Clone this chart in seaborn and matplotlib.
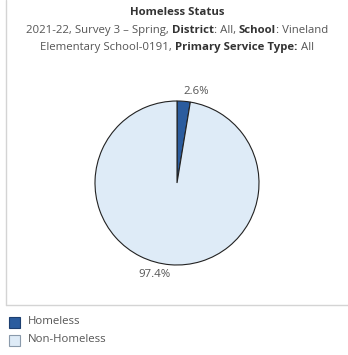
import matplotlib
matplotlib.use("Agg")
import matplotlib.pyplot as plt
from matplotlib.patches import Rectangle
from matplotlib.lines import Line2D
import numpy as np
import seaborn as sns

# Data
categories = ["Homeless", "Non-Homeless"]
shares = [2.6, 97.4]
colors = ["#2b5c9e", "#deebf7"]

title = "Homeless Status"
subtitle_lines = [
    [("2021-22, Survey 3 \u2013 Spring, ", False), ("District", True), (": All, ", False),
     ("School", True), (": Vineland", False)],
    [("Elementary School-0191, ", False), ("Primary Service Type:", True), (" All", False)],
]

sns.set_theme(style="white")
plt.rcParams["font.family"] = ["Open Sans", "DejaVu Sans"]

W, H = 348, 355
fig = plt.figure(figsize=(W / 100, H / 100), dpi=100)
fig.patch.set_facecolor("white")

TXT = "#555555"
BOLD = "#333333"
FS = 8.2

# Panel frame (left and bottom rules)
fig.add_artist(Line2D([6 / W, 6 / W], [1, 1 - 305 / H], color="#d4d4d4", lw=1.0))
fig.add_artist(Line2D([6 / W, 1], [1 - 305 / H, 1 - 305 / H], color="#d4d4d4", lw=1.0))

renderer = fig.canvas.get_renderer()


def draw_line(parts, y_px, cx_px=177):
    texts = []
    for s, b in parts:
        t = fig.text(0, 1 - y_px / H, s, fontsize=FS, fontweight="bold" if b else "normal",
                     color=BOLD if b else TXT, va="baseline", ha="left")
        texts.append(t)
    widths = [t.get_window_extent(renderer).width for t in texts]
    total = sum(widths)
    x = cx_px - total / 2
    for t, w in zip(texts, widths):
        t.set_x(x / W)
        x += w


draw_line([(title, True)], 15)
draw_line(subtitle_lines[0], 33)
draw_line(subtitle_lines[1], 50)

# Pie
R = 82
cx, cy = 177, 183
lim = 1.25
ax = fig.add_axes([(cx - lim * R) / W, (H - cy - lim * R) / H, 2 * lim * R / W, 2 * lim * R / H])
wedges, _ = ax.pie(shares, colors=colors, startangle=90, counterclock=False,
                   wedgeprops=dict(edgecolor="#222222", linewidth=0.8))
ax.set_xlim(-lim, lim)
ax.set_ylim(-lim, lim)
ax.set_aspect("equal")
ax.axis("off")

# Percentage labels outside the wedges
label_pos = [(0.23, 1.12), (-0.28, -1.11)]
for val, (lx, ly) in zip(shares, label_pos):
    ax.text(lx, ly, f"{val:.1f}%", fontsize=FS, color=TXT, ha="center", va="center")

# Legend
leg_edge = ["#1d3f70", "#8a9aab"]
for i, (cat, col) in enumerate(zip(categories, colors)):
    y = 322 + i * 18
    fig.add_artist(Rectangle((9 / W, 1 - (y + 5.5) / H), 11 / W, 11 / H,
                             facecolor=col, edgecolor=leg_edge[i], lw=0.8,
                             transform=fig.transFigure))
    fig.text(28 / W, 1 - y / H, cat, fontsize=FS, color=TXT, va="center", ha="left")

fig.savefig("out.png", dpi=100, facecolor="white")
